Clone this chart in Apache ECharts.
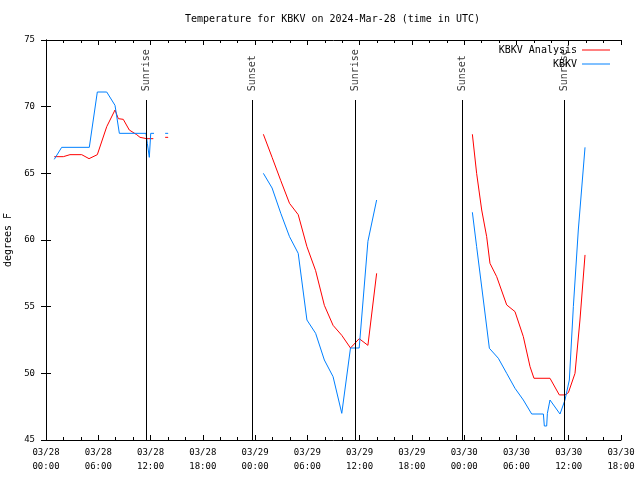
<!DOCTYPE html>
<html><head><meta charset="utf-8">
<script src="https://cdn.jsdelivr.net/npm/echarts@6/dist/echarts.min.js"></script>
<style>html,body{margin:0;padding:0;background:#fff}#c{width:640px;height:480px}</style>
</head><body><div id="c"></div>
<script>
const titleText = 'Temperature for KBKV on 2024-Mar-28 (time in UTC)';
const yAxisName = 'degrees F';
const xTickLabels = ['03/28\n00:00','03/28\n06:00','03/28\n12:00','03/28\n18:00','03/29\n00:00','03/29\n06:00','03/29\n12:00','03/29\n18:00','03/30\n00:00','03/30\n06:00','03/30\n12:00','03/30\n18:00'];
const seriesNames = ['KBKV Analysis', 'KBKV'];
// hours since 2024-03-28 00:00 UTC; null = gap
const analysisTimes = [0.95,1.99,2.75,4.1,4.94,5.89,6.97,7.92,8.3,8.87,9.56,10.41,10.79,11.56,12.32, 13.0, 13.85, 20,
  24.95,25.95,26.95,27.95,28.95,29.95,30.95,31.95,32.95,33.95,34.95,35.95,36.95,37.95, 44,
  48.94,49.43,50.01,50.58,50.96,51.73,52.88,53.83,54.79,55.56,56.01,57.85,58.92,59.57,59.96,60.72,61.29,61.87];
const analysisTemps = [66.25,66.25,66.4,66.4,66.1,66.4,68.5,69.75,69.1,69.05,68.25,67.9,67.7,67.6,67.6, null, 67.7, null,
  67.93,66.2,64.45,62.75,61.9,59.5,57.7,55.1,53.6,52.85,51.9,52.6,52.1,57.5, null,
  67.93,65.0,62.25,60.25,58.25,57.25,55.13,54.63,52.75,50.5,49.63,49.63,48.38,48.38,48.55,50.0,54.0,58.88];
const obsTimes = [0.95,1.8,4.97,5.89,6.97,7.92,8.42,11.48,11.63,11.86,12.02,12.4, 13.0, 13.85, 20,
  24.95,25.95,26.95,27.95,28.95,29.95,30.95,31.95,32.95,33.95,34.95,35.95,36.95,37.95, 44,
  48.94,49.43,50.2,50.89,51.92,52.88,53.83,54.79,55.75,57.09,57.2,57.47,57.55,57.85,59.0,59.57,60.07,60.53,61.1,61.87];
const obsTemps = [66.05,66.95,66.95,71.1,71.1,70.1,68.0,68.0,67.25,66.2,68.0,68.0, null, 68.0, null,
  65.0,63.9,62.0,60.25,59.0,54.0,53.0,51.0,49.75,47.0,51.9,51.9,59.9,63.0, null,
  62.08,59.5,55.5,51.88,51.13,50.0,48.88,48.0,46.95,46.95,46.05,46.05,47.0,48.0,46.95,48.0,49.5,55.0,60.75,66.95];
const eventTimes = [11.51, 23.68, 35.5, 47.78, 59.46];
const eventNames = ['Sunrise','Sunset','Sunrise','Sunset','Sunrise'];

const FONT = 'DejaVu Sans Mono';
function buildData(times, temps){
  return times.map((t,i)=>{
    const v = temps[i];
    const iso = v!=null && (i===0||temps[i-1]==null) && (i===temps.length-1||temps[i+1]==null);
    if (iso) return {value:[t,v], symbol:'rect', symbolSize:[3,1]};
    return [t, v==null ? null : v];
  });
}
const axisLine = {show:true, lineStyle:{color:'#000', width:1}};
function xAx(pos, labels){
  return {type:'value', position:pos, min:0, max:66, interval:6,
    axisLine:axisLine, splitLine:{show:false},
    axisTick:{show:true, inside:true, length:5, lineStyle:{color:'#000'}},
    minorTick:{show:true, splitNumber:3, length:3, lineStyle:{color:'#000'}},
    axisLabel:{show:labels, formatter:v=>xTickLabels[Math.round(v/6)], fontFamily:FONT, fontSize:9, lineHeight:14, color:'#000', margin:6}};
}
function yAx(pos, labels){
  const o = {type:'value', position:pos, min:45, max:75, interval:5,
    axisLine:axisLine, splitLine:{show:false},
    axisTick:{show:true, inside:true, length:5, lineStyle:{color:'#000'}},
    axisLabel:{show:labels, fontFamily:FONT, fontSize:9, color:'#000', margin:11}};
  if (labels) Object.assign(o, {name:yAxisName, nameLocation:'middle', nameGap:30, nameRotate:90,
    nameTextStyle:{fontFamily:FONT, fontSize:10, color:'#000'}});
  return o;
}
function leg(name, top){
  return {data:[name], right:30, top:top, orient:'vertical', align:'right', padding:0,
    icon:'rect', itemWidth:28, itemHeight:1, itemGap:0, selectedMode:false,
    textStyle:{fontFamily:FONT, fontSize:10, color:'#000'}};
}
const chart = echarts.init(document.getElementById('c'), null, {renderer:'canvas'});
chart.setOption({
  animation:false,
  backgroundColor:'#fff',
  title:{text:titleText, left:185, top:14, padding:0,
    textStyle:{fontFamily:FONT, fontSize:10, fontWeight:'normal', color:'#000'}},
  grid:{left:46, right:19, top:40, bottom:40, containLabel:false, outerBoundsMode:'none'},
  legend:[leg(seriesNames[0], 45), leg(seriesNames[1], 59)],
  xAxis:[xAx('bottom', true), xAx('top', false)],
  yAxis:[yAx('left', true), yAx('right', false)],
  series:[
    {type:'scatter', data:eventTimes.map((t,i)=>({value:[t,71.15], name:eventNames[i]})),
     symbolSize:0, silent:true,
     label:{show:true, formatter:'{b}', rotate:90, position:[0,0], align:'left', verticalAlign:'middle',
       fontFamily:FONT, fontSize:10, color:'#000'},
     markLine:{silent:true, symbol:'none', label:{show:false}, lineStyle:{color:'#000', width:1, type:'solid'},
       data:eventTimes.map(t=>[{coord:[t,45]},{coord:[t,70.5]}])}},
    {type:'line', name:seriesNames[0], data:buildData(analysisTimes, analysisTemps), symbol:'none', showSymbol:true,
     connectNulls:false, lineStyle:{color:'#ff0000', width:1}, itemStyle:{color:'#ff0000'}, silent:true, z:3},
    {type:'line', name:seriesNames[1], data:buildData(obsTimes, obsTemps), symbol:'none', showSymbol:true,
     connectNulls:false, lineStyle:{color:'#0080ff', width:1}, itemStyle:{color:'#0080ff'}, silent:true, z:3}
  ]
});
</script></body></html>
